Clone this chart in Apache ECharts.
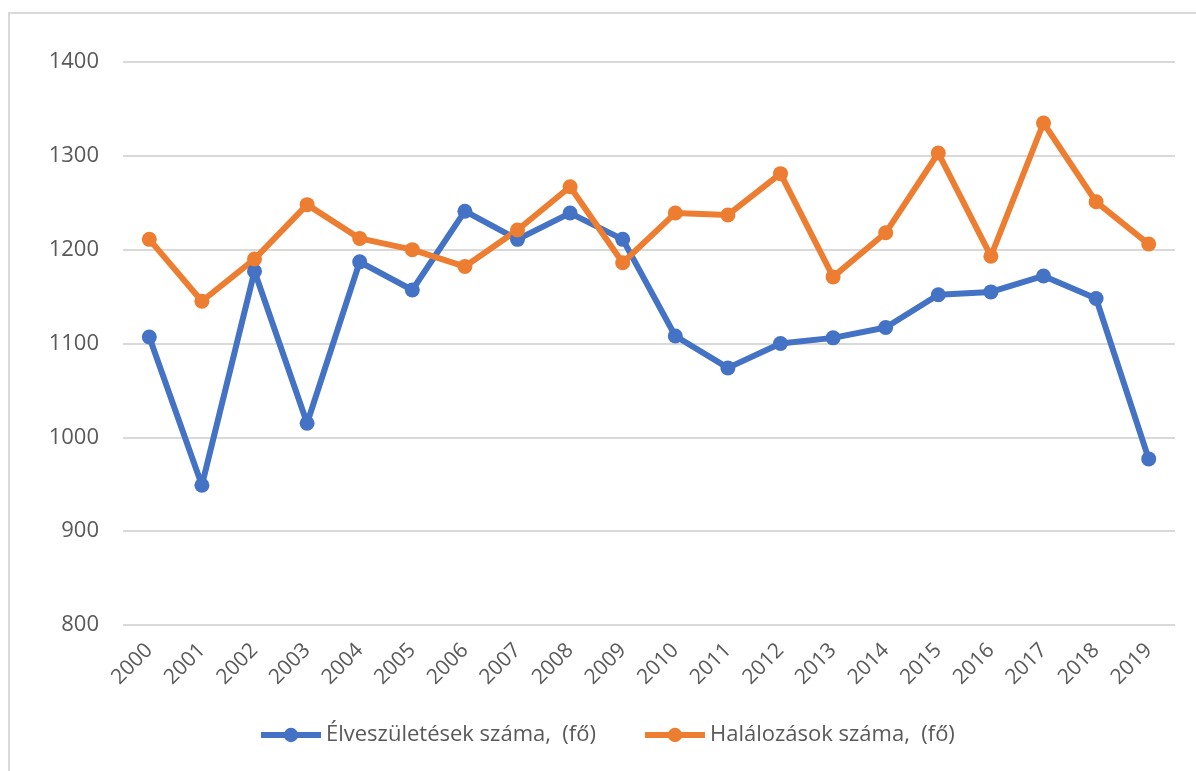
<!DOCTYPE html>
<html>
<head>
<meta charset="utf-8">
<script src="https://cdn.jsdelivr.net/npm/echarts@6/dist/echarts.min.js"></script>
<style>
  html, body { margin: 0; padding: 0; background: #fff; }
  #chart { width: 1196px; height: 771px; }
</style>
</head>
<body>
<div id="chart"></div>
<script>
// evek (x tengely)
var years = ['2000', '2001', '2002', '2003', '2004', '2005', '2006', '2007', '2008', '2009',
  '2010', '2011', '2012', '2013', '2014', '2015', '2016', '2017', '2018', '2019']
var births = [1107, 949, 1177, 1015, 1187, 1157, 1241, 1211, 1239, 1211,
  1108, 1074, 1100, 1106, 1117, 1152, 1155, 1172, 1148, 977]
var deaths = [1211, 1145, 1190, 1248, 1212, 1200, 1182, 1221, 1267, 1186,
  1239, 1237, 1281, 1171, 1218, 1303, 1193, 1335, 1251, 1206]
var seriesNames = ['Élveszületések száma,  (fő)', 'Halálozások száma,  (fő)']

var chart = echarts.init(document.getElementById('chart'))
var font = '"Open Sans", "Noto Sans", sans-serif'

chart.setOption({
  animation: false,
  color: ['#4472C4', '#ED7D31'],
  textStyle: { fontFamily: font },
  graphic: [{
    type: 'rect',
    shape: { x: 9, y: 13, width: 1300, height: 900 },
    style: { fill: 'none', stroke: '#d9d9d9', lineWidth: 2 },
    silent: true
  }],
  grid: { left: 123, right: 21, top: 62, bottom: 146 },
  legend: {
    top: 719,
    left: 253,
    itemWidth: 60,
    itemHeight: 18,
    itemGap: 46,
    lineStyle: { width: 6 },
    textStyle: { fontSize: 22, color: '#595959', fontFamily: font },
    data: seriesNames
  },
  xAxis: {
    type: 'category',
    data: years,
    axisLine: { show: false },
    axisTick: { show: false },
    axisLabel: { rotate: 45, fontSize: 21, color: '#595959', margin: 22, interval: 0 }
  },
  yAxis: {
    type: 'value',
    min: 800,
    max: 1400,
    interval: 100,
    axisLine: { show: false },
    axisTick: { show: false },
    axisLabel: { fontSize: 22, color: '#595959', margin: 24, formatter: function (v) { return String(v) } },
    splitLine: { lineStyle: { color: '#d9d9d9', width: 2 } }
  },
  series: [
    {
      name: seriesNames[0],
      type: 'line',
      data: births,
      symbol: 'circle',
      symbolSize: 15,
      lineStyle: { width: 6 }
    },
    {
      name: seriesNames[1],
      type: 'line',
      data: deaths,
      symbol: 'circle',
      symbolSize: 15,
      lineStyle: { width: 6 }
    }
  ]
})
</script>
</body>
</html>
